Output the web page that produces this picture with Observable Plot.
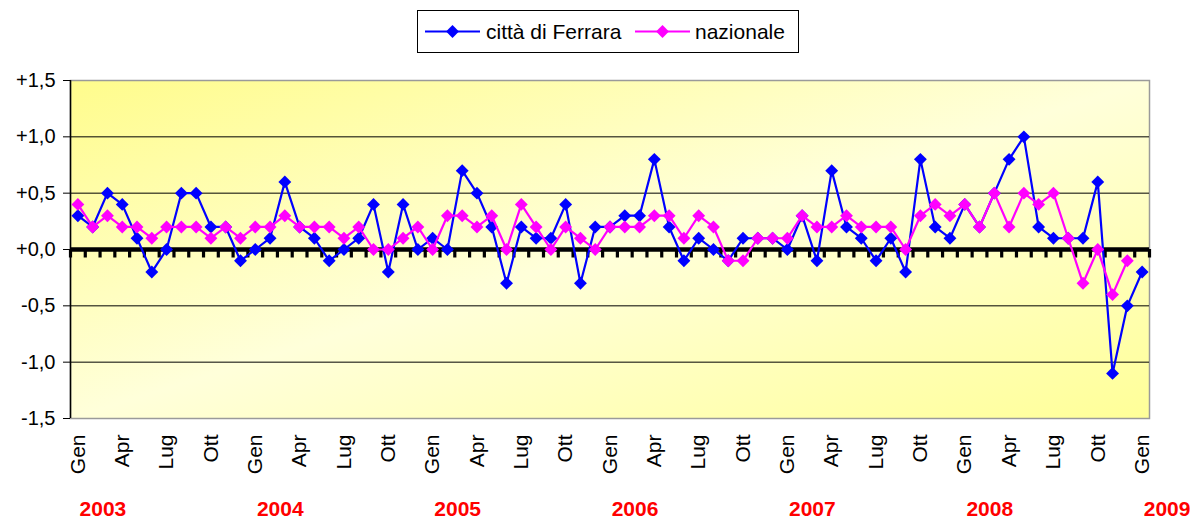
<!DOCTYPE html>
<html>
<head>
<meta charset="utf-8">
<script src="https://cdn.jsdelivr.net/npm/d3@7"></script>
<script src="https://cdn.jsdelivr.net/npm/@observablehq/plot@0.6"></script>
<style>
  html, body { margin: 0; padding: 0; background: #fff; overflow: hidden; }
  body { font-family: Arial, "Liberation Sans", sans-serif; }
  #legend { position: relative; width: 1201px; height: 60px; }
  #legend svg { position: absolute; left: 417px; top: 10px; }
  #chart svg { display: block; }
</style>
</head>
<body>
<div id="legend"></div>
<div id="chart"></div>
<script>
// ---- data ----
const tickMonths = ["Gen", "Apr", "Lug", "Ott"];
const yearLabels = ["2003", "2004", "2005", "2006", "2007", "2008", "2009"];
const seriesNames = ["città di Ferrara", "nazionale"];
const seriesColors = ["#0000FF", "#FF00FF"];
const yTicks = [-1.5, -1.0, -0.5, 0.0, 0.5, 1.0, 1.5];

// Gen 2003 ... Gen 2009 (monthly)
const ferrara = [
  0.3, 0.2, 0.5, 0.4, 0.1, -0.2, 0.0, 0.5, 0.5, 0.2, 0.2, -0.1,
  0.0, 0.1, 0.6, 0.2, 0.1, -0.1, 0.0, 0.1, 0.4, -0.2, 0.4, 0.0,
  0.1, 0.0, 0.7, 0.5, 0.2, -0.3, 0.2, 0.1, 0.1, 0.4, -0.3, 0.2,
  0.2, 0.3, 0.3, 0.8, 0.2, -0.1, 0.1, 0.0, -0.1, 0.1, 0.1, 0.1,
  0.0, 0.3, -0.1, 0.7, 0.2, 0.1, -0.1, 0.1, -0.2, 0.8, 0.2, 0.1,
  0.4, 0.2, 0.5, 0.8, 1.0, 0.2, 0.1, 0.1, 0.1, 0.6, -1.1, -0.5,
  -0.2
];
const nazionale = [
  0.4, 0.2, 0.3, 0.2, 0.2, 0.1, 0.2, 0.2, 0.2, 0.1, 0.2, 0.1,
  0.2, 0.2, 0.3, 0.2, 0.2, 0.2, 0.1, 0.2, 0.0, 0.0, 0.1, 0.2,
  0.0, 0.3, 0.3, 0.2, 0.3, 0.0, 0.4, 0.2, 0.0, 0.2, 0.1, 0.0,
  0.2, 0.2, 0.2, 0.3, 0.3, 0.1, 0.3, 0.2, -0.1, -0.1, 0.1, 0.1,
  0.1, 0.3, 0.2, 0.2, 0.3, 0.2, 0.2, 0.2, 0.0, 0.3, 0.4, 0.3,
  0.4, 0.2, 0.5, 0.2, 0.5, 0.4, 0.5, 0.1, -0.3, 0.0, -0.4, -0.1
];

// ---- derived tables ----
const nCat = ferrara.length;
const ferrRows = ferrara.map((v, i) => ({i, v}));
const nazRows = nazionale.map((v, i) => ({i, v}));
const labelIdx = d3.range(0, nCat, 3);
const boundaries = d3.range(-0.5, nCat, 1);
const gridVals = yTicks.filter(d => d !== 0 && Math.abs(d) < 1.5);
const yearRows = yearLabels.map((t, k) => ({x: k * 12, t}));

const fmtY = d => (d < 0 ? "-" : "+") + Math.abs(d).toFixed(1).replace(".", ",");

const plot = Plot.plot({
  width: 1201,
  height: 464,
  marginTop: 20,
  marginBottom: 106,
  marginLeft: 70,
  marginRight: 52,
  style: {background: "transparent", color: "#000", fontFamily: "Arial, 'Liberation Sans', sans-serif", overflow: "visible"},
  x: {domain: [-0.5, nCat - 0.5]},
  y: {domain: [-1.5, 1.5]},
  marks: [
    Plot.frame({fill: "url(#bgGrad)", stroke: "#9a9a9a", strokeWidth: 1.5}),
    Plot.ruleY(gridVals, {stroke: "#000", strokeWidth: 1}),
    Plot.ruleX([-0.5], {stroke: "#000", strokeWidth: 1.5}),
    Plot.ruleY([0], {stroke: "#000", strokeWidth: 4.5}),
    Plot.ruleX(boundaries, {x: d => d, y1: 0, y2: 0, insetBottom: -8.5, stroke: "#000", strokeWidth: 3.2}),
    Plot.axisY({ticks: yTicks, tickFormat: fmtY, tickSize: 7, tickPadding: 8, fontSize: 20, label: null}),
    Plot.axisX({ticks: labelIdx, tickFormat: i => tickMonths[(i % 12) / 3], tickSize: 0, tickPadding: 16,
      tickRotate: -90, textAnchor: "end", lineAnchor: "middle", fontSize: 21, label: null}),
    Plot.line(ferrRows, {x: "i", y: "v", stroke: seriesColors[0], strokeWidth: 2.2}),
    Plot.dot(ferrRows, {x: "i", y: "v", symbol: "diamond2", r: 5.8, fill: seriesColors[0], stroke: "none"}),
    Plot.line(nazRows, {x: "i", y: "v", stroke: seriesColors[1], strokeWidth: 2.2}),
    Plot.dot(nazRows, {x: "i", y: "v", symbol: "diamond2", r: 5.8, fill: seriesColors[1], stroke: "none"}),
    Plot.text(yearRows, {x: "x", text: "t", frameAnchor: "bottom", dy: 97, dx: 25, fill: "#FF0000",
      fontWeight: "bold", fontSize: 21})
  ]
});

// background gradient for the plot area
const ns = "http://www.w3.org/2000/svg";
const defs = document.createElementNS(ns, "defs");
const lg = document.createElementNS(ns, "linearGradient");
lg.setAttribute("id", "bgGrad");
lg.setAttribute("x1", "0"); lg.setAttribute("y1", "0");
lg.setAttribute("x2", "1"); lg.setAttribute("y2", "1");
[["0", "#FFFC8C"], ["0.5", "#FFFFDA"], ["1", "#FFFF98"]].forEach(([o, c]) => {
  const s = document.createElementNS(ns, "stop");
  s.setAttribute("offset", o);
  s.setAttribute("stop-color", c);
  lg.appendChild(s);
});
defs.appendChild(lg);
plot.insertBefore(defs, plot.firstChild);
document.getElementById("chart").appendChild(plot);

// legend
const lw = 382, lh = 43;
const leg = d3.select("#legend").append("svg").attr("width", lw).attr("height", lh);
leg.append("rect").attr("x", 0.5).attr("y", 0.5).attr("width", lw - 1).attr("height", lh - 1)
  .attr("fill", "#fff").attr("stroke", "#000");
const items = [{x0: 8, tx: 69}, {x0: 218, tx: 278}];
const diamond = d3.symbol(d3.symbolDiamond2, Math.PI * 5.8 * 5.8)();
seriesNames.forEach((name, k) => {
  const g = leg.append("g");
  const it = items[k];
  g.append("line").attr("x1", it.x0).attr("x2", it.x0 + 55).attr("y1", lh / 2).attr("y2", lh / 2)
    .attr("stroke", seriesColors[k]).attr("stroke-width", 2.2);
  g.append("path").attr("d", diamond).attr("transform", `translate(${it.x0 + 27.5},${lh / 2})`)
    .attr("fill", seriesColors[k]);
  g.append("text").attr("x", it.tx).attr("y", lh / 2).attr("dy", "0.35em")
    .attr("font-size", 21).attr("font-family", "Arial, 'Liberation Sans', sans-serif")
    .attr("fill", "#000").text(name);
});
</script>
</body>
</html>
